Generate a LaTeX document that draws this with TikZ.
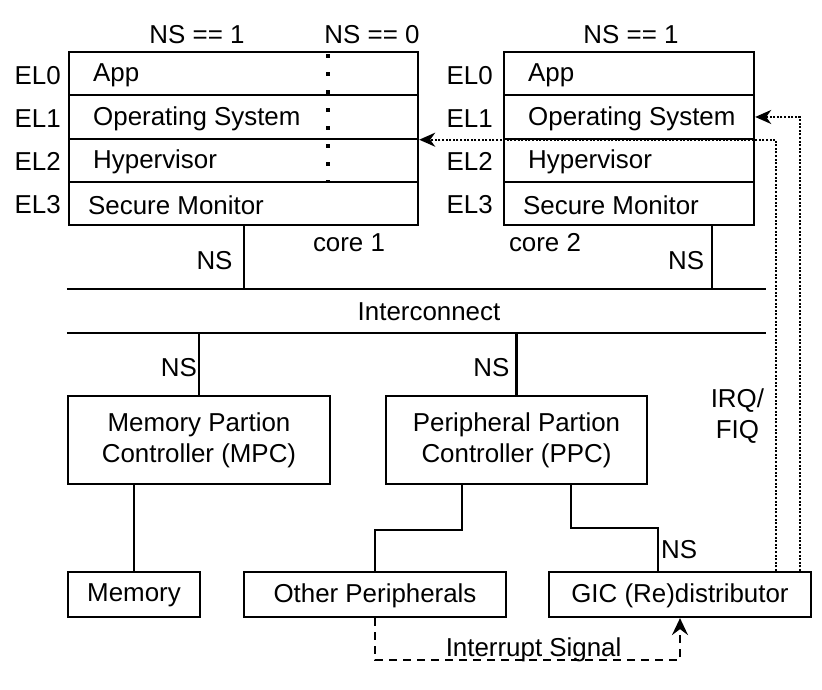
\documentclass[tikz,border=0pt]{standalone}
\usepackage{fontspec}
\setmainfont{Liberation Sans}
\usetikzlibrary{arrows.meta,positioning}

\begin{document}
\begin{tikzpicture}[x=1pt,y=-1pt,
  every node/.style={font=\fontsize{25.9}{31}\selectfont, inner sep=0pt},
  layer/.style={draw, line width=2.2pt, anchor=north west, minimum height=43.25pt},
  blk/.style={draw, line width=2.2pt, align=center},
  wire/.style={line width=2.2pt},
  divider/.style={line width=4pt, dash pattern=on 4pt off 14pt, dash phase=-3pt},
  irq/.style={line width=2pt, dash pattern=on 2pt off 1.6pt, -{Stealth[length=16pt,width=14pt,inset=5pt]}},
  sig/.style={line width=2.2pt, dash pattern=on 8pt off 6pt, -{Stealth[length=17pt,width=16pt,inset=6pt]}}]
\useasboundingbox (0,0) rectangle (822,689);
% core 1
\foreach \n/\t/\d [count=\i from 0] in {app/App/25pt, os/Operating System/25pt, hyp/Hypervisor/25pt, mon/Secure Monitor/20pt}{
  \node[layer, minimum width=349pt] (\n1) at (68,51+43.25*\i) {};
  \node[right=\d of \n1.west, yshift=-1.5pt] (\n1t) {\t};
  \node[left=7pt of \n1.west, yshift=-1.5pt] (ela\i) {EL\i};
}
\draw[divider] (app1.north -| 328,0) -- (hyp1.south -| 328,0);
\node (nsa) at (197,35) {NS == 1};
\node (nsb) at (372,35) {NS == 0};
\node (core1) at (349,243) {core 1};
% core 2
\foreach \n/\t/\d [count=\i from 0] in {app/App/25pt, os/Operating System/25pt, hyp/Hypervisor/25pt, mon/Secure Monitor/20pt}{
  \node[layer, minimum width=250pt] (\n2) at (503,51+43.25*\i) {};
  \node[right=\d of \n2.west, yshift=-1.5pt] (\n2t) {\t};
  \node[left=10pt of \n2.west, yshift=-1.5pt] (elb\i) {EL\i};
}
\node (nsc) at (631,35) {NS == 1};
\node (core2) at (545,243) {core 2};
% interconnect
\node[minimum width=699pt, minimum height=44pt] (ic) at (416.5,311) {};
\draw[wire] (ic.north west) -- (ic.north east);
\draw[wire] (ic.south west) -- (ic.south east);
\node (ict) at (429,312) {Interconnect};
\coordinate (p2) at ([xshift=-43pt]mon2.south east);
\draw[wire] (mon1.south) -- node[pos=0.55, left=10pt] (ns1) {NS} (mon1.south |- ic.north);
\draw[wire] (p2) -- node[pos=0.55, left=7pt] (ns2) {NS} (p2 |- ic.north);
% controller
\node[blk, minimum width=262pt, minimum height=88pt] (mpc) at (199,440) {Memory Partion\\Controller (MPC)};
\node[blk, minimum width=261pt, minimum height=88pt] (ppc) at (516.5,440) {Peripheral Partion\\Controller (PPC)};
\draw[wire] (mpc.north) -- node[pos=0.44, left=1pt] (ns3) {NS} (mpc.north |- ic.south);
\draw[wire] (ppc.north) -- node[pos=0.44, left=6pt] (ns4) {NS} (ppc.north |- ic.south);
% periferiche
\node[blk, minimum width=132pt, minimum height=45pt, text depth=3pt] (mem) at (134,594.5) {Memory};
\node[blk, minimum width=262pt, minimum height=45pt, text depth=3pt] (oth) at (375,594.5) {Other Peripherals};
\node[blk, minimum width=262pt, minimum height=45pt, text depth=3pt] (gic) at (680,594.5) {GIC (Re)distributor};
\draw[wire] (mem.north) -- (mem.north |- mpc.south);
\draw[wire] ([xshift=-54.5pt]ppc.south) -- ++(0,45) -| (oth.north);
\draw[wire] ([xshift=54.5pt]ppc.south) -- ++(0,43) -| node[pos=0.75, right=2pt] (ns5) {NS} ([xshift=-22pt]gic.north);
% interrupt
\draw[sig] (oth.south) -- ++(0,42) -| node[pos=0.26, anchor=base, yshift=4pt] (sigt) {Interrupt Signal} (gic.south);
\draw[irq] ([xshift=96pt]gic.north) |- node[pos=0.18, left=11pt, align=center] (irqt) {IRQ/\\FIQ} (os1.south east);
\draw[irq] ([xshift=120pt]gic.north) |- (os2.east);
\end{tikzpicture}
\end{document}
